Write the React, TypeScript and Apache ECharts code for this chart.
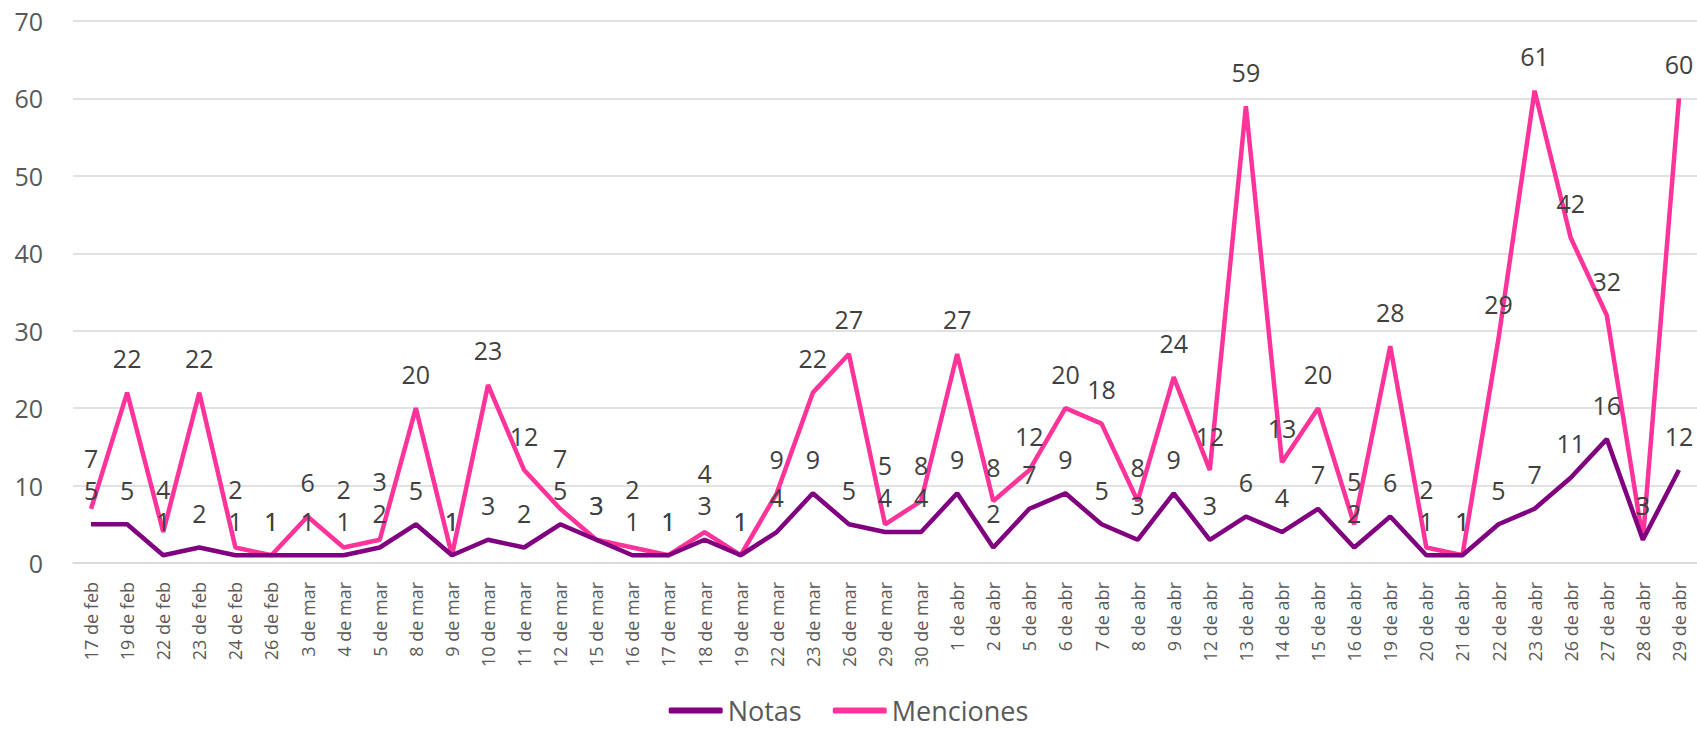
import React, { useEffect, useRef } from "react";
import * as echarts from "echarts";

const categories = [
  "17 de feb", "19 de feb", "22 de feb", "23 de feb", "24 de feb", "26 de feb",
  "3 de mar", "4 de mar", "5 de mar", "8 de mar", "9 de mar", "10 de mar",
  "11 de mar", "12 de mar", "15 de mar", "16 de mar", "17 de mar", "18 de mar",
  "19 de mar", "22 de mar", "23 de mar", "26 de mar", "29 de mar", "30 de mar",
  "1 de abr", "2 de abr", "5 de abr", "6 de abr", "7 de abr", "8 de abr",
  "9 de abr", "12 de abr", "13 de abr", "14 de abr", "15 de abr", "16 de abr",
  "19 de abr", "20 de abr", "21 de abr", "22 de abr", "23 de abr", "26 de abr",
  "27 de abr", "28 de abr", "29 de abr",
];

const notas = [
  5, 5, 1, 2, 1, 1, 1, 1, 2, 5, 1, 3, 2, 5, 3, 1, 1, 3, 1, 4, 9, 5, 4, 4, 9,
  2, 7, 9, 5, 3, 9, 3, 6, 4, 7, 2, 6, 1, 1, 5, 7, 11, 16, 3, 12,
];

const menciones = [
  7, 22, 4, 22, 2, 1, 6, 2, 3, 20, 1, 23, 12, 7, 3, 2, 1, 4, 1, 9, 22, 27, 5,
  8, 27, 8, 12, 20, 18, 8, 24, 12, 59, 13, 20, 5, 28, 2, 1, 29, 61, 42, 32, 3, 60,
];

const yMin = 0;
const yMax = 70;
const yStep = 10;

const FONT = "'Open Sans', 'Noto Sans', sans-serif";

const H = 734;
const GRID_TOP = 21;
const GRID_BOTTOM = 171;
const LABEL_DIST = 22;
const LABEL_STACK = 32;

export default function App() {
  const ref = useRef<HTMLDivElement>(null);

  useEffect(() => {
    document.body.style.margin = "0";
    if (!ref.current) return;
    const chart = echarts.init(ref.current, undefined, { renderer: "svg" });
    const pxPerUnit = (H - GRID_TOP - GRID_BOTTOM) / (yMax - yMin);
    const labelStyle = {
      show: true,
      position: "top" as const,
      distance: LABEL_DIST,
      fontSize: 25,
      color: "#404040",
      fontFamily: FONT,
    };
    chart.setOption({
      animation: false,
      backgroundColor: "#ffffff",
      textStyle: { fontFamily: FONT },
      grid: { left: 73, right: 0, top: GRID_TOP, bottom: GRID_BOTTOM, containLabel: false },
      legend: {
        top: 697,
        left: "center",
        padding: 0,
        itemWidth: 54,
        itemHeight: 6,
        itemGap: 31,
        icon: "roundRect",
        textStyle: { fontSize: 27, color: "#595959", fontFamily: FONT },
        data: ["Notas", "Menciones"],
      },
      xAxis: {
        type: "category",
        data: categories,
        boundaryGap: true,
        axisLine: { show: true, lineStyle: { color: "#d9d9d9", width: 1.5 } },
        axisTick: { show: false },
        axisLabel: {
          rotate: 90,
          interval: 0,
          margin: 19,
          fontSize: 18,
          color: "#595959",
          fontFamily: FONT,
        },
      },
      yAxis: {
        type: "value",
        min: yMin,
        max: yMax,
        interval: yStep,
        axisLine: { show: false },
        axisTick: { show: false },
        splitLine: { lineStyle: { color: "#d9d9d9", width: 1.5 } },
        axisLabel: {
          margin: 30,
          fontSize: 25,
          color: "#595959",
          fontFamily: FONT,
        },
      },
      series: [
        {
          name: "Notas",
          type: "line",
          data: notas,
          symbol: "circle",
          symbolSize: 0.1,
          showSymbol: true,
          color: "#800080",
          itemStyle: { color: "#800080" },
          lineStyle: { width: 4.5, color: "#800080" },
          label: labelStyle,
          z: 3,
        },
        {
          name: "Menciones",
          type: "line",
          data: menciones,
          symbol: "circle",
          symbolSize: 0.1,
          showSymbol: true,
          color: "#ff3399",
          itemStyle: { color: "#ff3399" },
          lineStyle: { width: 4.5, color: "#ff3399" },
          label: labelStyle,
          labelLayout: (params: any) => {
            const i = params.dataIndex;
            const lr = params.labelRect;
            if (!lr) return {};
            const diff = menciones[i] - notas[i];
            // equal values: both labels coincide, as in the reference
            if (diff === 0) return {};
            const center = lr.y + lr.height / 2;
            const notasCenter = center + diff * pxPerUnit;
            const desired = Math.min(center, notasCenter - LABEL_STACK);
            return { dy: desired - center };
          },
          z: 2,
        },
      ],
    });
    return () => chart.dispose();
  }, []);

  return <div ref={ref} style={{ width: 1697, height: 734 }} />;
}
